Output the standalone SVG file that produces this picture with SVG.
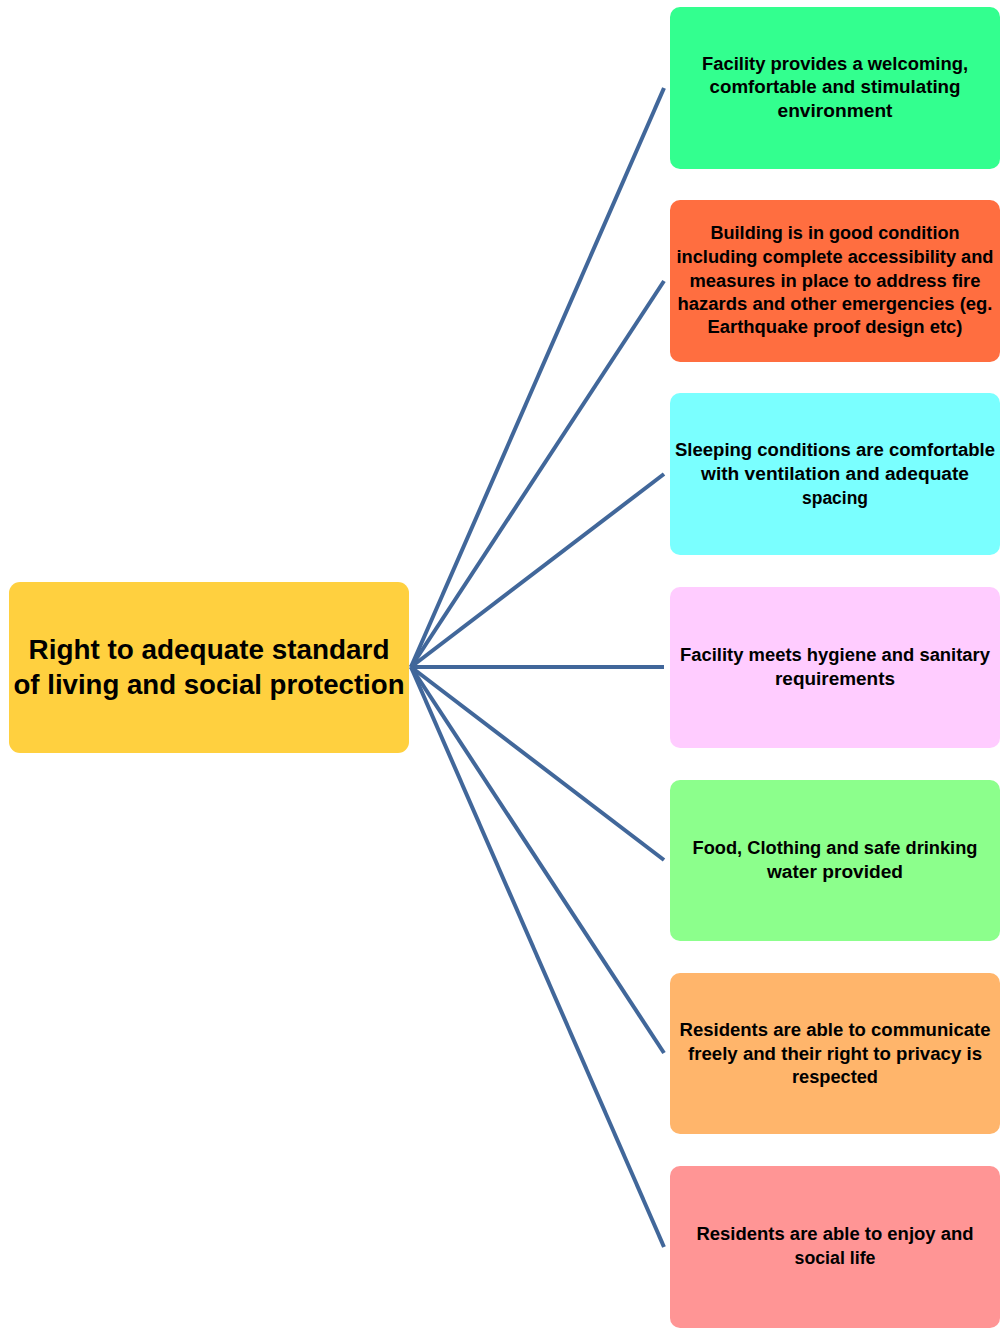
<svg xmlns="http://www.w3.org/2000/svg" width="1005" height="1334" viewBox="0 0 1005 1334">
<style>
.t{font-family:"Liberation Sans",Arial,sans-serif;font-weight:bold;font-size:17.5px;fill:#000;text-anchor:middle}
.c{font-family:"Liberation Sans",Arial,sans-serif;font-weight:bold;font-size:27px;fill:#000;text-anchor:middle}
.e{stroke:#41679A;stroke-width:4;fill:none}
</style>
<rect width="1005" height="1334" fill="#fff"/>
<g id="connectors">
<line class="e" x1="411" y1="667" x2="664" y2="88"/>
<line class="e" x1="411" y1="667" x2="664" y2="281"/>
<line class="e" x1="411" y1="667" x2="664" y2="474"/>
<line class="e" x1="411" y1="667" x2="664" y2="667"/>
<line class="e" x1="411" y1="667" x2="664" y2="860"/>
<line class="e" x1="411" y1="667" x2="664" y2="1053"/>
<line class="e" x1="411" y1="667" x2="664" y2="1247"/>
</g>
<g id="center">
<rect x="9" y="582" width="400" height="171" rx="11" fill="#FFD03F"/>
<text class="c" x="209" y="659" textLength="361" lengthAdjust="spacingAndGlyphs">Right to adequate standard</text>
<text class="c" x="209" y="694" textLength="391" lengthAdjust="spacingAndGlyphs">of living and social protection</text>
</g>
<g id="n1">
<rect x="670" y="7" width="330" height="162" rx="10" fill="#33FF8F"/>
<text class="t" x="835" y="70" textLength="266" lengthAdjust="spacingAndGlyphs">Facility provides a welcoming,</text>
<text class="t" x="835" y="93" textLength="251" lengthAdjust="spacingAndGlyphs">comfortable and stimulating</text>
<text class="t" x="835" y="117" textLength="115" lengthAdjust="spacingAndGlyphs">environment</text>
</g>
<g id="n2">
<rect x="670" y="200" width="330" height="162" rx="10" fill="#FF6E40"/>
<text class="t" x="835" y="239" textLength="249" lengthAdjust="spacingAndGlyphs">Building is in good condition</text>
<text class="t" x="835" y="263" textLength="317" lengthAdjust="spacingAndGlyphs">including complete accessibility and</text>
<text class="t" x="835" y="287" textLength="291" lengthAdjust="spacingAndGlyphs">measures in place to address fire</text>
<text class="t" x="835" y="310" textLength="315" lengthAdjust="spacingAndGlyphs">hazards and other emergencies (eg.</text>
<text class="t" x="835" y="333" textLength="255" lengthAdjust="spacingAndGlyphs">Earthquake proof design etc)</text>
</g>
<g id="n3">
<rect x="670" y="393" width="330" height="162" rx="10" fill="#7AFFFF"/>
<text class="t" x="835" y="456" textLength="320" lengthAdjust="spacingAndGlyphs">Sleeping conditions are comfortable</text>
<text class="t" x="835" y="480" textLength="268" lengthAdjust="spacingAndGlyphs">with ventilation and adequate</text>
<text class="t" x="835" y="504" textLength="66" lengthAdjust="spacingAndGlyphs">spacing</text>
</g>
<g id="n4">
<rect x="670" y="587" width="330" height="161" rx="10" fill="#FFCCFF"/>
<text class="t" x="835" y="661" textLength="310" lengthAdjust="spacingAndGlyphs">Facility meets hygiene and sanitary</text>
<text class="t" x="835" y="685" textLength="120" lengthAdjust="spacingAndGlyphs">requirements</text>
</g>
<g id="n5">
<rect x="670" y="780" width="330" height="161" rx="10" fill="#8CFF8C"/>
<text class="t" x="835" y="854" textLength="285" lengthAdjust="spacingAndGlyphs">Food, Clothing and safe drinking</text>
<text class="t" x="835" y="878" textLength="136" lengthAdjust="spacingAndGlyphs">water provided</text>
</g>
<g id="n6">
<rect x="670" y="973" width="330" height="161" rx="10" fill="#FFB56B"/>
<text class="t" x="835" y="1036" textLength="311" lengthAdjust="spacingAndGlyphs">Residents are able to communicate</text>
<text class="t" x="835" y="1060" textLength="294" lengthAdjust="spacingAndGlyphs">freely and their right to privacy is</text>
<text class="t" x="835" y="1083" textLength="86" lengthAdjust="spacingAndGlyphs">respected</text>
</g>
<g id="n7">
<rect x="670" y="1166" width="330" height="162" rx="10" fill="#FF9595"/>
<text class="t" x="835" y="1240" textLength="277" lengthAdjust="spacingAndGlyphs">Residents are able to enjoy and</text>
<text class="t" x="835" y="1264" textLength="81" lengthAdjust="spacingAndGlyphs">social life</text>
</g>
</svg>
